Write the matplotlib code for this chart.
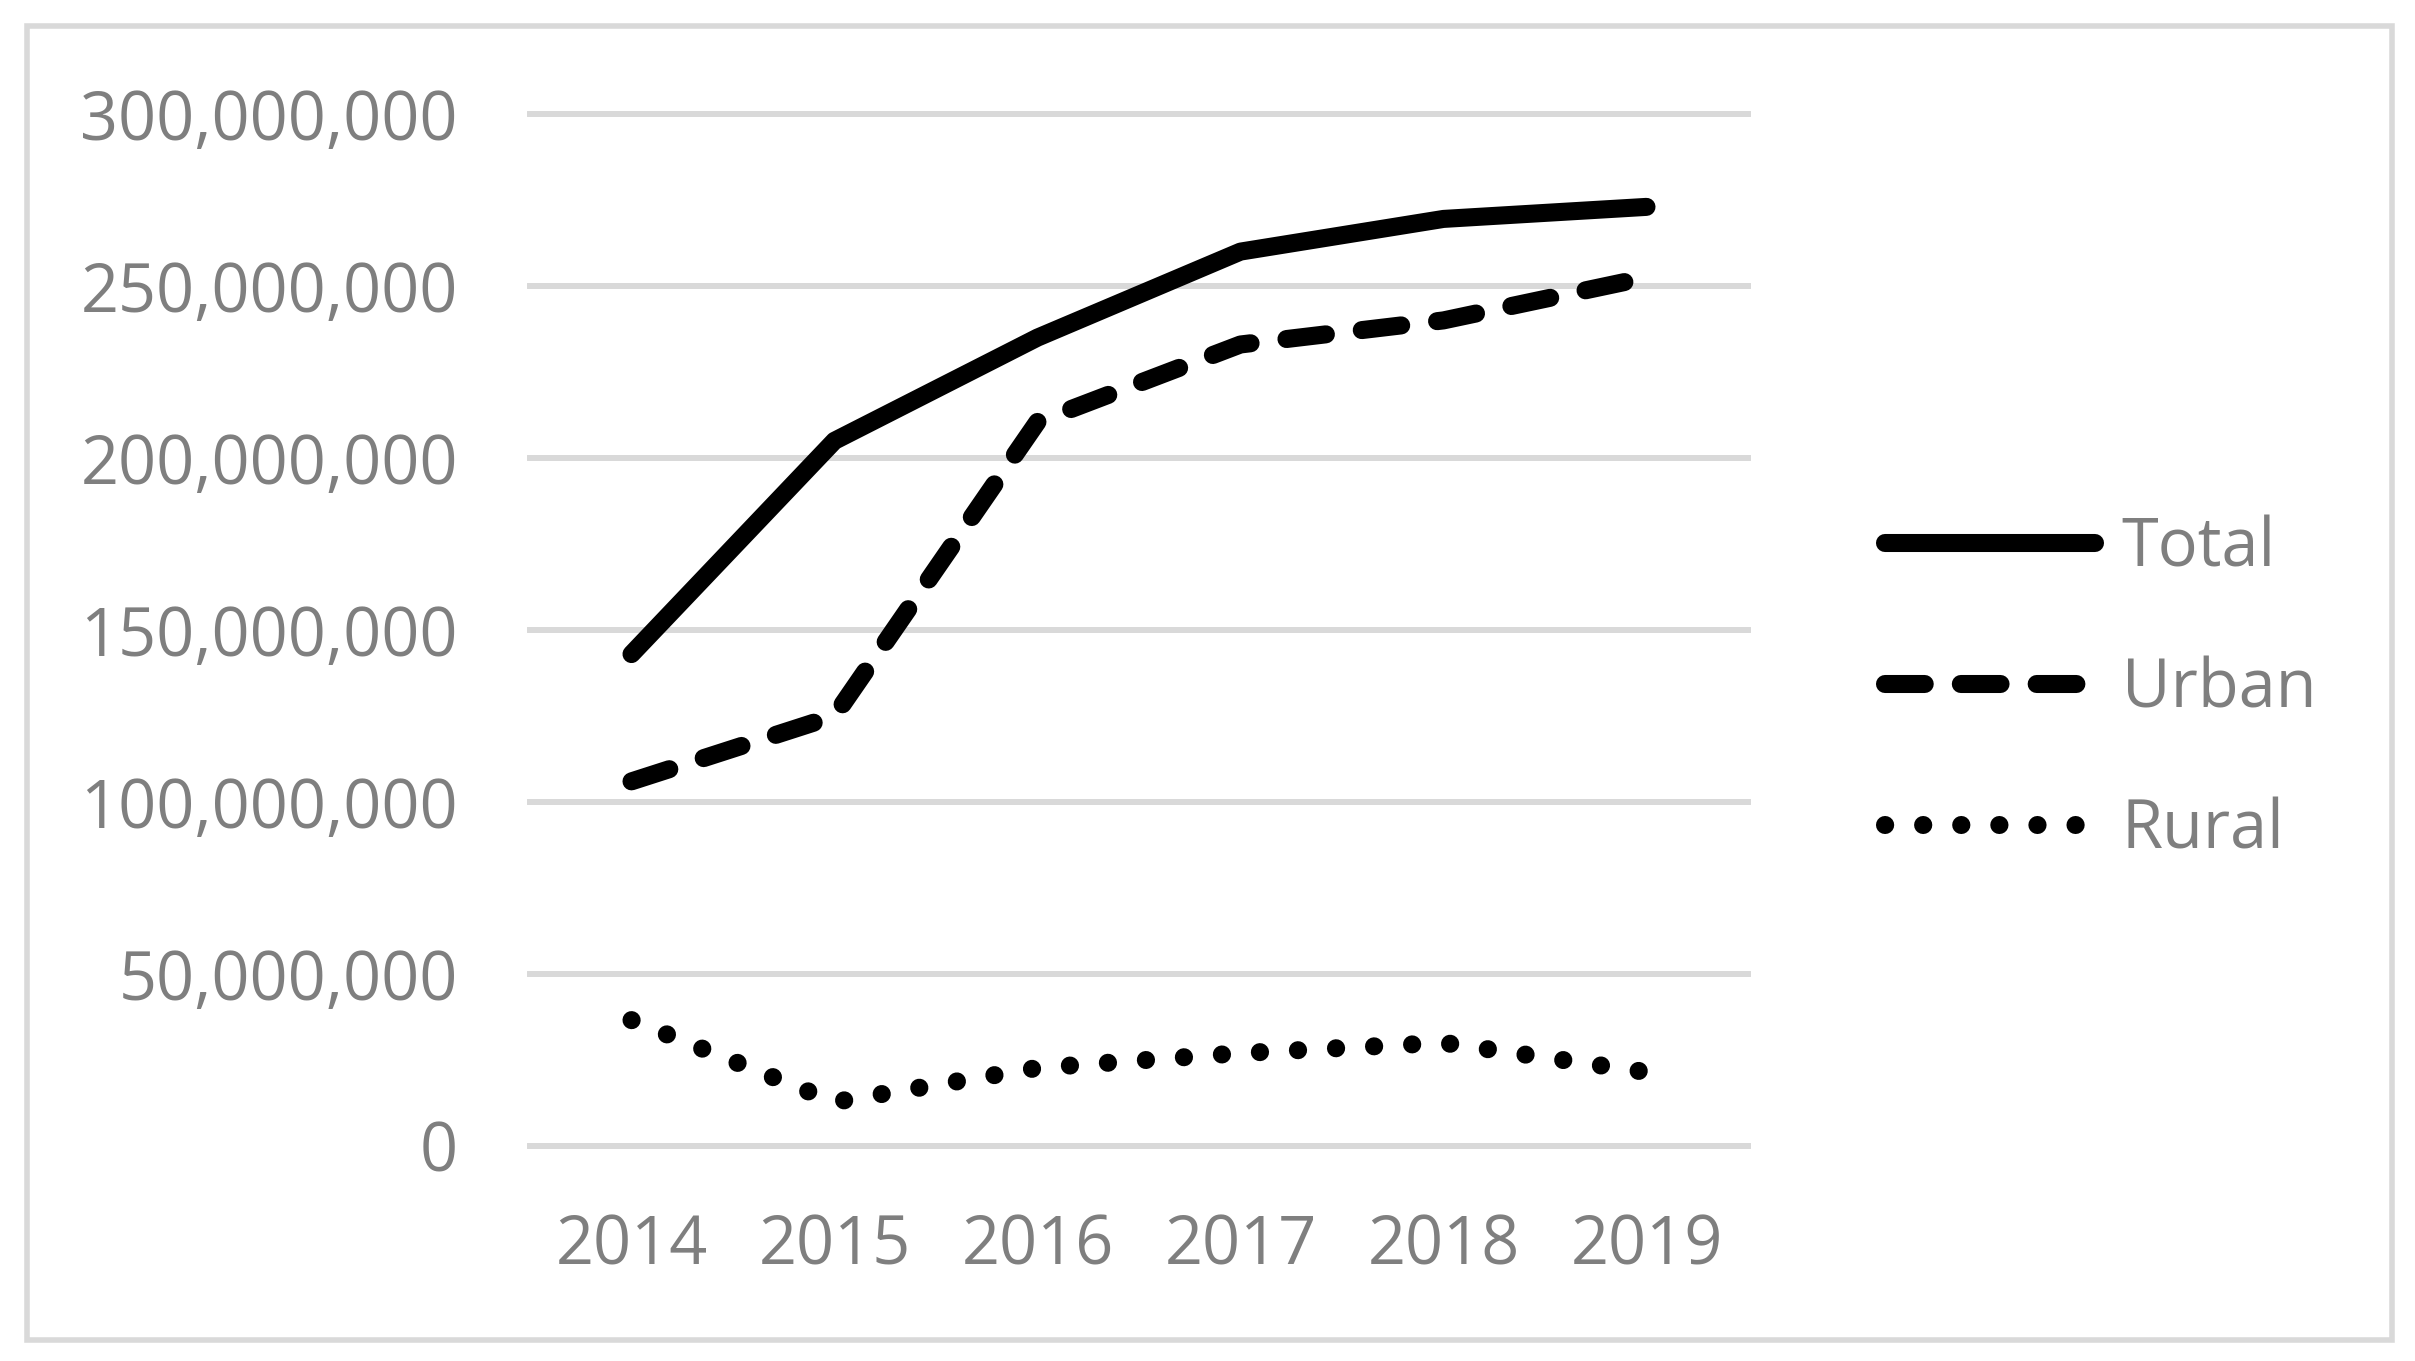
import matplotlib.pyplot as plt
from matplotlib.patches import Rectangle
from matplotlib.ticker import FuncFormatter

# ============================================================
# DATA
# ============================================================
years = ["2014", "2015", "2016", "2017", "2018", "2019"]
total = [143e6, 205e6, 235e6, 260e6, 269.5e6, 273e6]
urban = [106e6, 125e6, 210.5e6, 233e6, 240e6, 252.5e6]
rural = [36.6e6, 12.8e6, 22.7e6, 27e6, 30e6, 21.5e6]

plt.rcParams["font.family"] = ["Open Sans", "DejaVu Sans"]
GREY_TEXT = "#7f7f7f"
GREY_LINE = "#d9d9d9"
LW = 13

fig = plt.figure(figsize=(24.15, 13.61), dpi=100)
ax = fig.add_axes([0.21946, 0.15797, 0.50435, 0.75827])

x = range(len(years))
ax.plot(x, total, color="black", linewidth=LW, label="Total",
        solid_capstyle="round", solid_joinstyle="round")
ax.plot(x, urban, color="black", linewidth=LW, label="Urban",
        dashes=(2.2, 2.0), dash_capstyle="round", dash_joinstyle="round")
ax.plot(x, rural, color="black", linewidth=LW, label="Rural",
        dashes=(0.01, 2.1), dash_capstyle="round", dash_joinstyle="round")

ax.set_xlim(-0.5, len(years) - 0.5)
ax.set_ylim(0, 300e6)
ax.set_yticks([i * 50e6 for i in range(7)])
ax.yaxis.set_major_formatter(FuncFormatter(lambda v, p: f"{v:,.0f}"))
ax.set_xticks(list(x))
ax.set_xticklabels(years)

ax.tick_params(axis="both", length=0, labelsize=48, colors=GREY_TEXT)
ax.tick_params(axis="y", pad=52)
ax.tick_params(axis="x", pad=48)

for s in ax.spines.values():
    s.set_visible(False)
ax.yaxis.grid(True, color=GREY_LINE, linewidth=4.3)
ax.set_axisbelow(True)
for gl in ax.get_ygridlines():
    gl.set_clip_on(False)

fig.legend(loc="center left", bbox_to_anchor=(0.7805, 0.4932),
           frameon=False, fontsize=48, labelcolor=GREY_TEXT,
           handlelength=3.15, handletextpad=0.4, labelspacing=1.1,
           borderpad=0, borderaxespad=0)

# outer chart border
fig.patches.append(Rectangle((27 / 2415, 1 - 1340 / 1361),
                             (2392 - 27) / 2415, (1340 - 26) / 1361,
                             transform=fig.transFigure, fill=False,
                             edgecolor=GREY_LINE, linewidth=4))

plt.savefig("out.png", dpi=100)
